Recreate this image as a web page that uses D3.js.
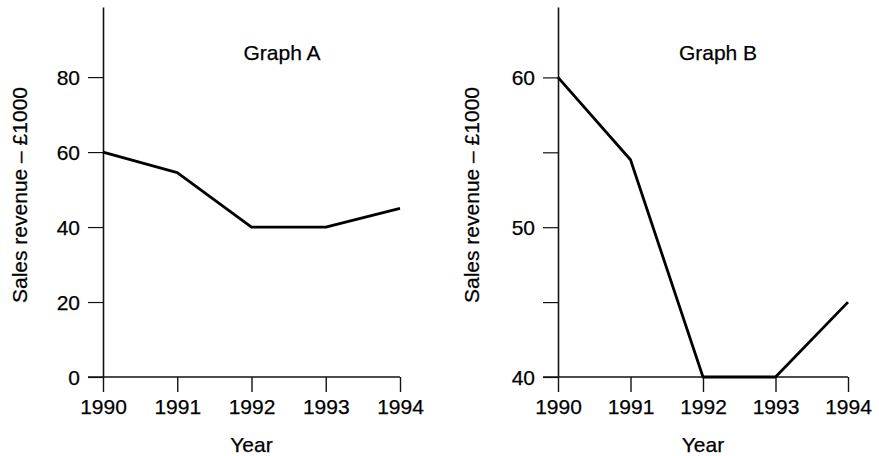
<!DOCTYPE html>
<html>
<head>
<meta charset="utf-8">
<script src="https://cdn.jsdelivr.net/npm/d3@7"></script>
<style>
  body { margin: 0; background: #fff; }
  svg text { font-family: "Liberation Sans", Arial, Helvetica, sans-serif; fill: #000; stroke: #000; stroke-width: 0.25px; }
</style>
</head>
<body>
<div id="chart"></div>
<script>
// data
const years = [1990, 1991, 1992, 1993, 1994];
const revenue = [60, 54.5, 40, 40, 45];

const ticksA = [0, 20, 40, 60, 80];
const ticksB = [40, 45, 50, 55, 60];
const labelsB = [40, 50, 60];

const W = 879, H = 456;
const tickLen = 15;
const fontSize = '21px';

const svg = d3.select('#chart')
    .append('svg')
    .attr('width', W)
    .attr('height', H);

// one panel per graph
function drawPanel(opts) {
    const x = d3.scaleLinear()
        .domain([years[0], years[years.length - 1]])
        .range([opts.left, opts.right]);

    const y = d3.scaleLinear()
        .domain(opts.yDomain)
        .range([377, 7]);

    const g = svg.append('g');

    // y axis
    const yAxis = d3.axisLeft(y)
        .tickValues(opts.yTicks)
        .tickSize(tickLen)
        .tickSizeOuter(0)
        .tickPadding(8)
        .tickFormat(d => opts.yLabels.includes(d) ? d : '');

    const ya = g.append('g')
        .attr('transform', 'translate(' + opts.left + ',0)')
        .call(yAxis);
    ya.select('.domain').attr('stroke', '#111').attr('stroke-width', 1.6);
    ya.selectAll('.tick line').attr('stroke', '#111').attr('stroke-width', 1.2);
    ya.selectAll('.tick text').style('font-size', fontSize).attr('dy', '0.34em');

    // x axis (ticks downwards, no domain line)
    const xAxis = d3.axisBottom(x)
        .tickValues(years)
        .tickSize(tickLen)
        .tickPadding(7)
        .tickFormat(d3.format('d'));

    const xa = g.append('g')
        .attr('transform', 'translate(0,' + y(opts.yDomain[0]) + ')')
        .call(xAxis);
    xa.select('.domain').remove();
    xa.selectAll('.tick line').attr('stroke', '#111').attr('stroke-width', 1.4);
    xa.selectAll('.tick text').style('font-size', fontSize);

    // baseline that runs out past the y axis
    g.append('line')
        .attr('x1', x(years[0]) - tickLen)
        .attr('x2', x(years[years.length - 1]))
        .attr('y1', y(opts.yDomain[0]))
        .attr('y2', y(opts.yDomain[0]))
        .attr('stroke', '#111')
        .attr('stroke-width', 1.4);

    // the revenue line
    const line = d3.line()
        .x((d, i) => x(years[i]))
        .y(d => y(d));

    g.append('path')
        .datum(revenue)
        .attr('fill', 'none')
        .attr('stroke', '#000')
        .attr('stroke-width', 2.8)
        .attr('stroke-linejoin', 'round')
        .attr('d', line);

    // title
    g.append('text')
        .attr('x', opts.titleX)
        .attr('y', 60)
        .attr('text-anchor', 'middle')
        .style('font-size', fontSize)
        .text(opts.title);

    // axis titles
    g.append('text')
        .attr('transform', 'translate(' + opts.yTitleX + ',195) rotate(-90)')
        .attr('text-anchor', 'middle')
        .style('font-size', fontSize)
        .text('Sales revenue \u2013 \u00a31000');

    g.append('text')
        .attr('x', x(1992))
        .attr('y', 452)
        .attr('text-anchor', 'middle')
        .style('font-size', fontSize)
        .text('Year');
}

drawPanel({
    left: 103, right: 400,
    yDomain: [0, 98.7], yTicks: ticksA, yLabels: ticksA,
    title: 'Graph A', titleX: 282, yTitleX: 27
});

drawPanel({
    left: 558, right: 848,
    yDomain: [40, 64.7], yTicks: ticksB, yLabels: labelsB,
    title: 'Graph B', titleX: 718, yTitleX: 479
});
</script>
</body>
</html>
